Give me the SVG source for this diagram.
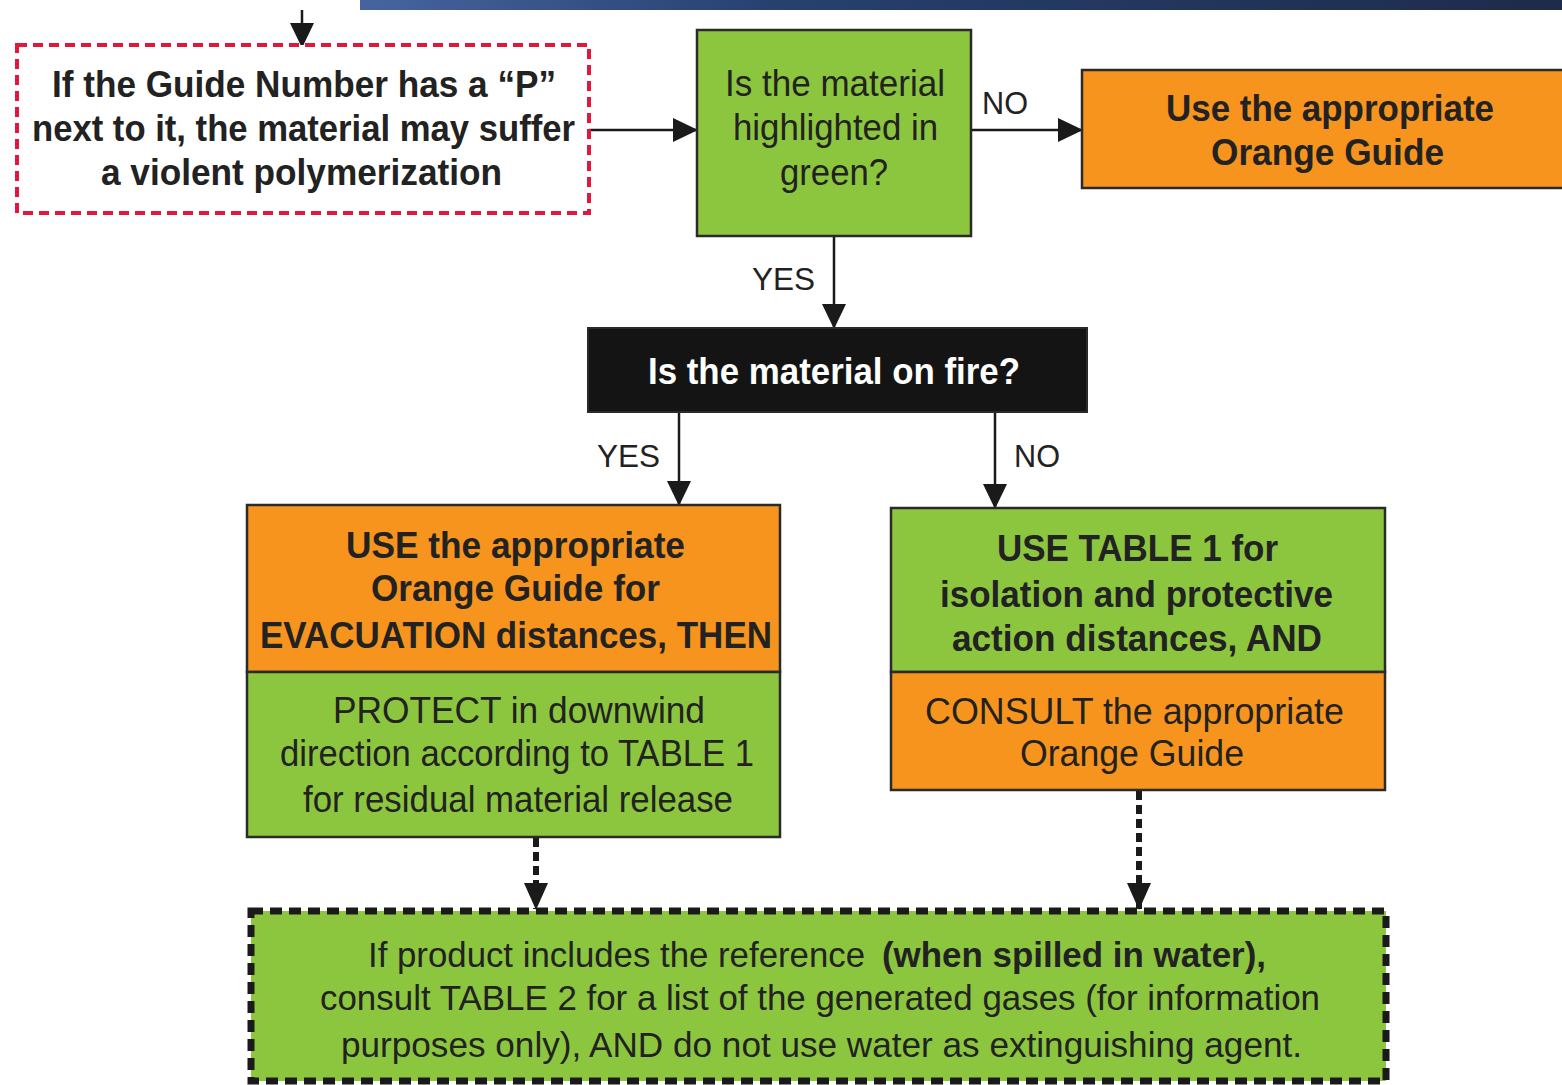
<svg xmlns="http://www.w3.org/2000/svg" width="1562" height="1085" viewBox="0 0 1562 1085">
<defs>
<linearGradient id="bar" x1="0" y1="0" x2="1" y2="0">
<stop offset="0" stop-color="#46659f"/>
<stop offset="0.35" stop-color="#27406e"/>
<stop offset="1" stop-color="#1e2b4a"/>
</linearGradient>
<marker id="ah" markerUnits="userSpaceOnUse" markerWidth="26" markerHeight="26" viewBox="0 0 26 26" refX="24" refY="13" orient="auto">
<path d="M0,1 L25,13 L0,25 Z" fill="#1a1a1a"/>
</marker>
<marker id="ahd" markerUnits="userSpaceOnUse" markerWidth="28" markerHeight="28" viewBox="0 0 28 28" refX="26" refY="14" orient="auto">
<path d="M0,2 L27,14 L0,26 Z" fill="#1a1a1a"/>
</marker>
</defs>
<style>
.t{font-family:"Liberation Sans",Arial,sans-serif;fill:#222;}
.b{font-weight:bold;}
.w{fill:#fff;}
.green{fill:#8cc63f;stroke:#2a2a2a;stroke-width:2.5;}
.orange{fill:#f7941d;stroke:#2a2a2a;stroke-width:2.5;}
.conn{stroke:#1a1a1a;stroke-width:2.5;fill:none;}
.dconn{stroke:#1a1a1a;stroke-width:6;stroke-dasharray:9 5;fill:none;}
</style>
<rect x="360" y="0" width="1202" height="10" fill="url(#bar)"/>

<g id="connectors">
<line class="conn" x1="302" y1="10" x2="302" y2="47" marker-end="url(#ah)"/>
<line class="conn" x1="589" y1="130" x2="697" y2="130" marker-end="url(#ah)"/>
<line class="conn" x1="971" y1="130" x2="1082" y2="130" marker-end="url(#ah)"/>
<line class="conn" x1="834" y1="236" x2="834" y2="328" marker-end="url(#ah)"/>
<line class="conn" x1="679" y1="412" x2="679" y2="505" marker-end="url(#ah)"/>
<line class="conn" x1="995" y1="412" x2="995" y2="508" marker-end="url(#ah)"/>
<line class="dconn" x1="536" y1="838" x2="536" y2="909" marker-end="url(#ahd)"/>
<line class="dconn" x1="1139" y1="791" x2="1139" y2="909" marker-end="url(#ahd)"/>
<text class="t" x="982" y="114" font-size="31" textLength="46" lengthAdjust="spacingAndGlyphs">NO</text>
<text class="t" x="752" y="290" font-size="31" textLength="63" lengthAdjust="spacingAndGlyphs">YES</text>
<text class="t" x="597" y="467" font-size="31" textLength="63" lengthAdjust="spacingAndGlyphs">YES</text>
<text class="t" x="1014" y="467" font-size="31" textLength="46" lengthAdjust="spacingAndGlyphs">NO</text>
</g>

<g id="polymerization">
<rect x="17" y="45" width="572" height="168" fill="#fff" stroke="#e3173e" stroke-width="4" stroke-dasharray="10 6"/>
<text class="t b" x="52" y="97" font-size="37" textLength="504" lengthAdjust="spacingAndGlyphs">If the Guide Number has a “P”</text>
<text class="t b" x="32" y="141" font-size="37" textLength="543" lengthAdjust="spacingAndGlyphs">next to it, the material may suffer</text>
<text class="t b" x="101" y="185" font-size="37" textLength="401" lengthAdjust="spacingAndGlyphs">a violent polymerization</text>
</g>

<g id="green-question">
<rect class="green" x="697" y="30" width="274" height="206"/>
<text class="t" x="725" y="96" font-size="37" textLength="220" lengthAdjust="spacingAndGlyphs">Is the material</text>
<text class="t" x="733" y="140" font-size="37" textLength="205" lengthAdjust="spacingAndGlyphs">highlighted in</text>
<text class="t" x="780" y="185" font-size="37" textLength="108" lengthAdjust="spacingAndGlyphs">green?</text>
</g>

<g id="orange-guide">
<rect class="orange" x="1082" y="70" width="485" height="118"/>
<text class="t b" x="1166" y="121" font-size="37" textLength="328" lengthAdjust="spacingAndGlyphs">Use the appropriate</text>
<text class="t b" x="1211" y="165" font-size="37" textLength="233" lengthAdjust="spacingAndGlyphs">Orange Guide</text>
</g>

<g id="fire-question">
<rect x="588" y="328" width="499" height="84" fill="#141414" stroke="#2a2a2a" stroke-width="2"/>
<text class="t b w" x="648" y="384" font-size="37" textLength="372" lengthAdjust="spacingAndGlyphs">Is the material on fire?</text>
</g>

<g id="fire-yes">
<rect class="orange" x="247" y="505" width="533" height="167"/>
<rect class="green" x="247" y="672" width="533" height="165"/>
<text class="t b" x="346" y="558" font-size="37" textLength="339" lengthAdjust="spacingAndGlyphs">USE the appropriate</text>
<text class="t b" x="371" y="601" font-size="37" textLength="289" lengthAdjust="spacingAndGlyphs">Orange Guide for</text>
<text class="t b" x="260" y="648" font-size="37" textLength="512" lengthAdjust="spacingAndGlyphs">EVACUATION distances, THEN</text>
<text class="t" x="333" y="723" font-size="37" textLength="372" lengthAdjust="spacingAndGlyphs">PROTECT in downwind</text>
<text class="t" x="280" y="766" font-size="37" textLength="474" lengthAdjust="spacingAndGlyphs">direction according to TABLE 1</text>
<text class="t" x="303" y="812" font-size="37" textLength="430" lengthAdjust="spacingAndGlyphs">for residual material release</text>
</g>

<g id="fire-no">
<rect class="green" x="891" y="508" width="494" height="164"/>
<rect class="orange" x="891" y="672" width="494" height="118"/>
<text class="t b" x="997" y="561" font-size="37" textLength="281" lengthAdjust="spacingAndGlyphs">USE TABLE 1 for</text>
<text class="t b" x="940" y="607" font-size="37" textLength="393" lengthAdjust="spacingAndGlyphs">isolation and protective</text>
<text class="t b" x="952" y="651" font-size="37" textLength="370" lengthAdjust="spacingAndGlyphs">action distances, AND</text>
<text class="t" x="925" y="724" font-size="37" textLength="419" lengthAdjust="spacingAndGlyphs">CONSULT the appropriate</text>
<text class="t" x="1020" y="766" font-size="37" textLength="224" lengthAdjust="spacingAndGlyphs">Orange Guide</text>
</g>

<g id="water-note">
<rect x="251" y="911" width="1135" height="170" fill="#8cc63f" stroke="#1a1a1a" stroke-width="7" stroke-dasharray="12 7"/>
<text class="t" x="368" y="967" font-size="35" textLength="497" lengthAdjust="spacingAndGlyphs">If product includes the reference</text>
<text class="t b" x="882" y="967" font-size="35" textLength="384" lengthAdjust="spacingAndGlyphs">(when spilled in water),</text>
<text class="t" x="320" y="1010" font-size="35" textLength="1000" lengthAdjust="spacingAndGlyphs">consult TABLE 2 for a list of the generated gases (for information</text>
<text class="t" x="341" y="1057" font-size="35" textLength="961" lengthAdjust="spacingAndGlyphs">purposes only), AND do not use water as extinguishing agent.</text>
</g>
</svg>
